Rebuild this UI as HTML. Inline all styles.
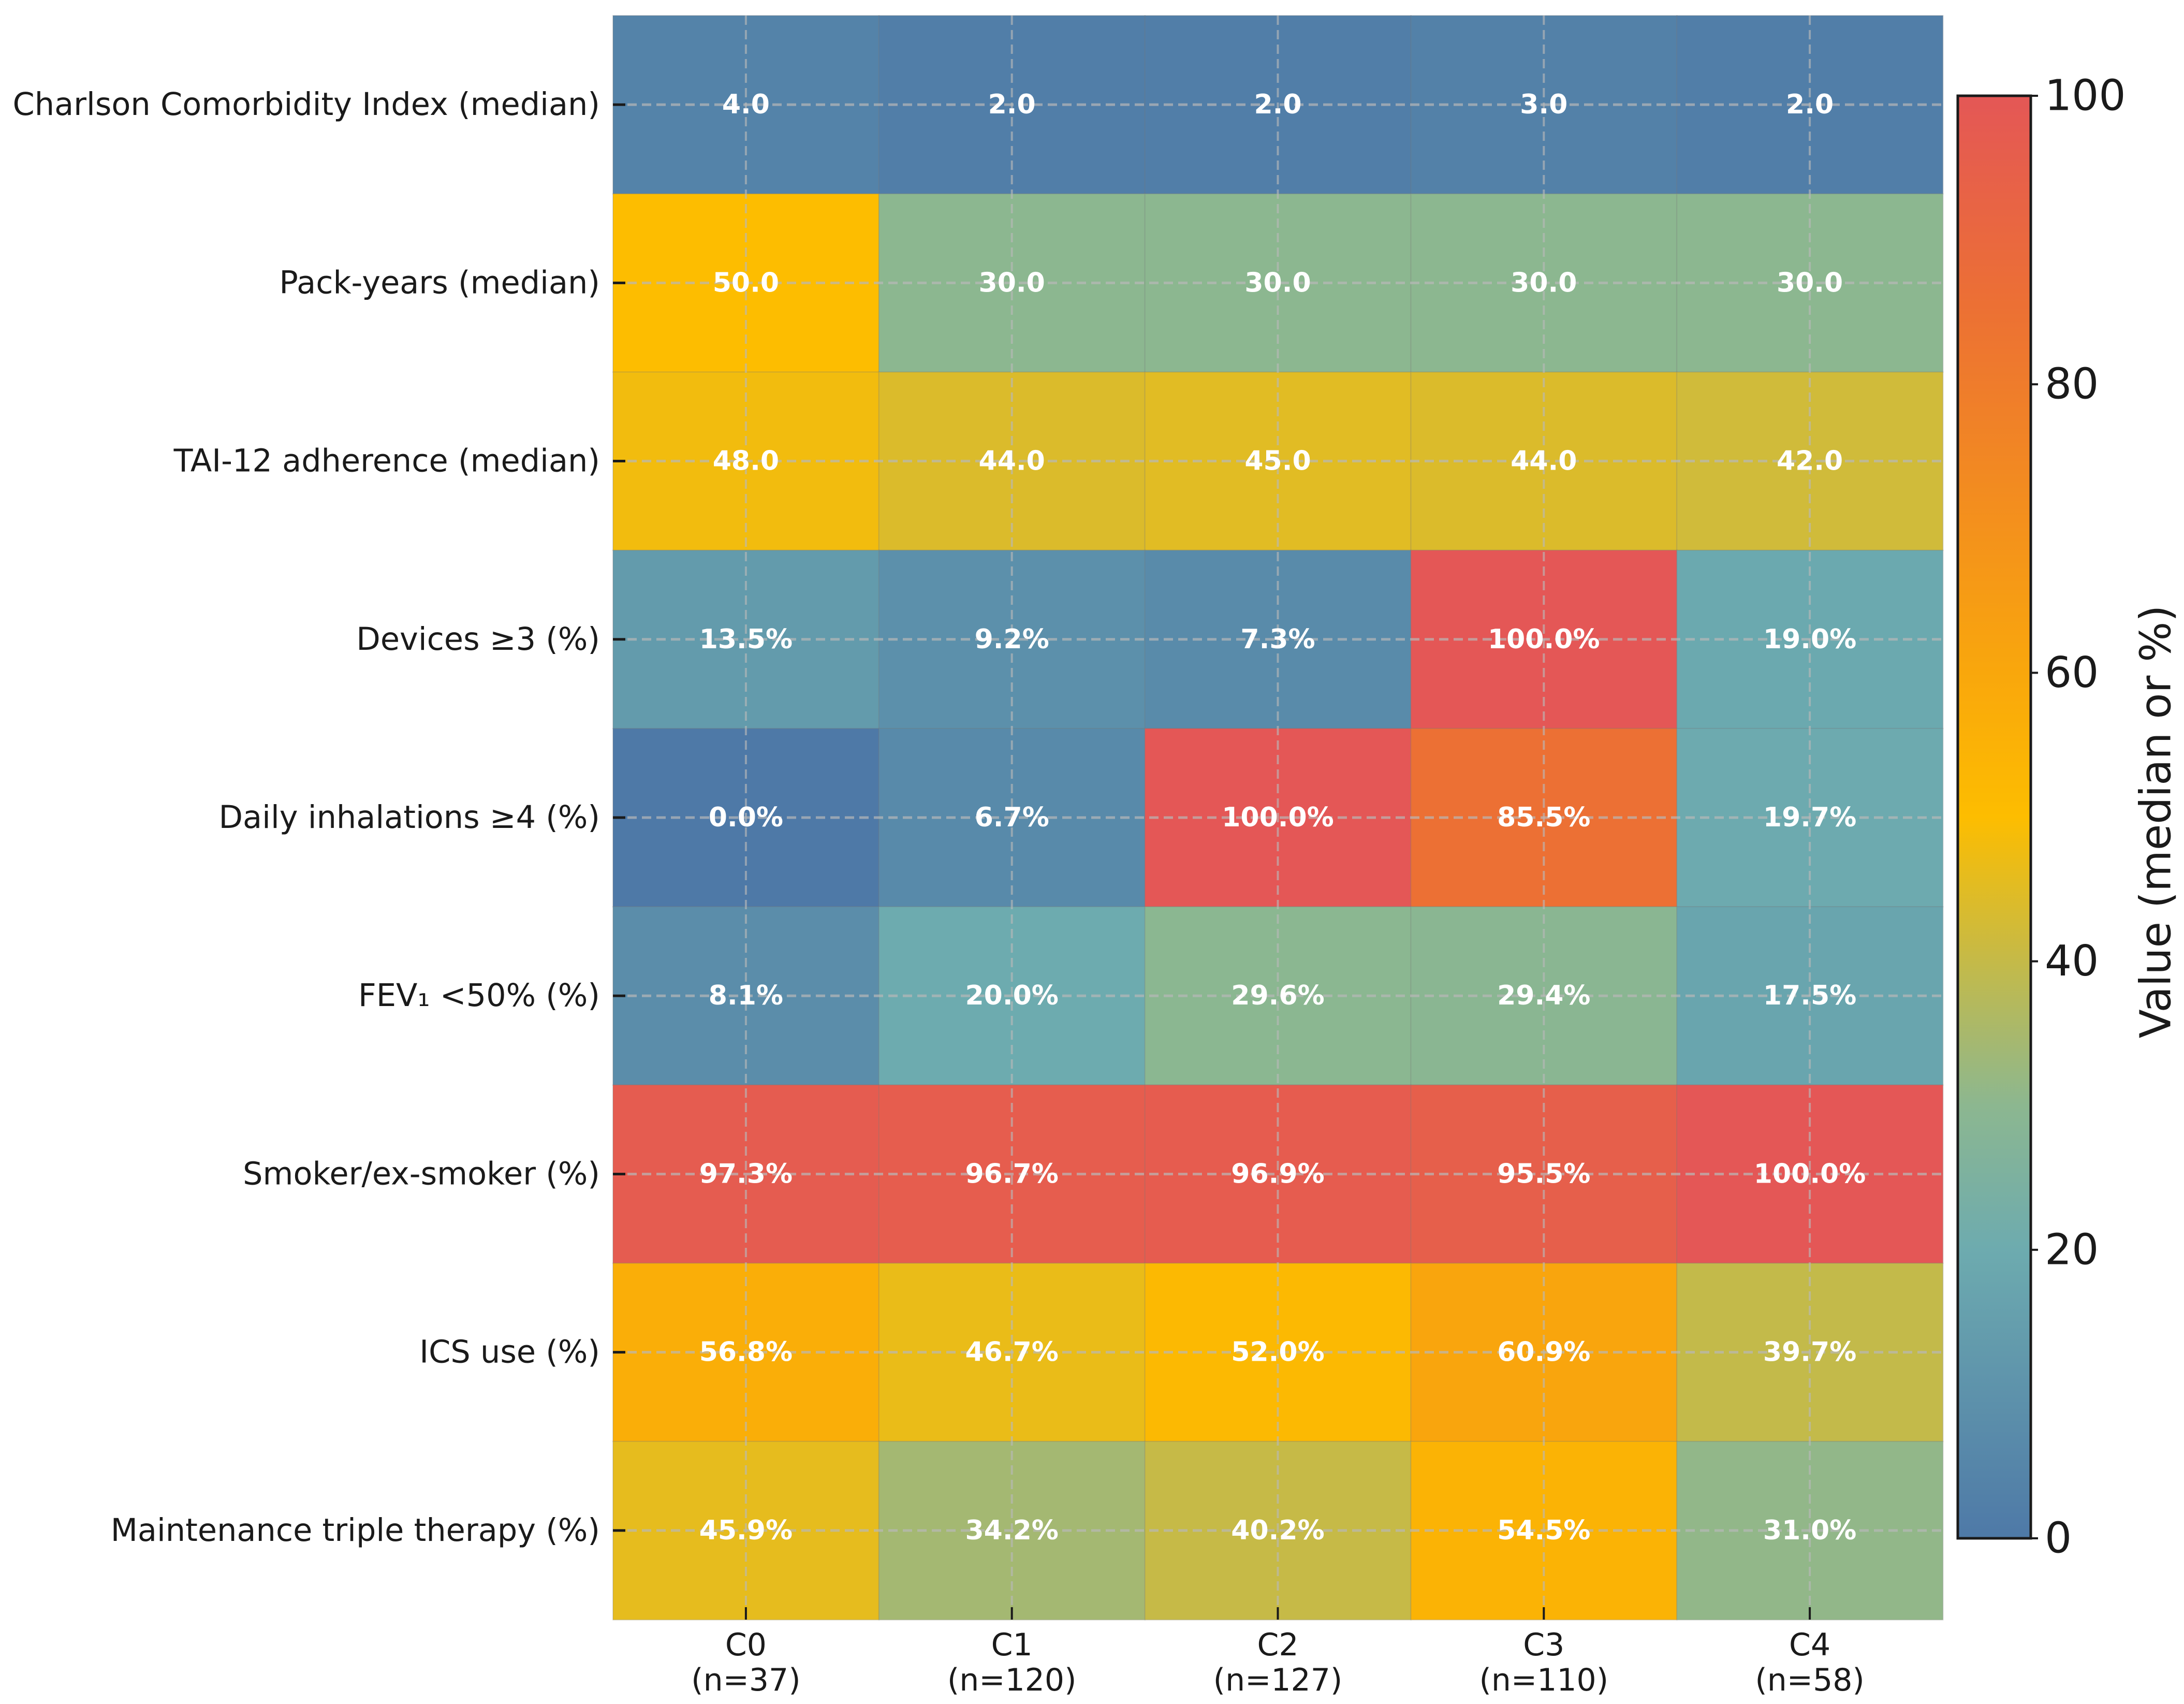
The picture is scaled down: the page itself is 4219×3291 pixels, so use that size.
<!DOCTYPE html>
<html><head><meta charset="utf-8"><style>
html,body{margin:0;padding:0;background:#fff;}
svg{display:block;font-family:"DejaVu Sans","Liberation Sans",sans-serif;}
</style></head><body>
<svg id="chart" width="4219" height="3291" viewBox="0 0 4219 3291" xmlns="http://www.w3.org/2000/svg">
<defs>
<linearGradient id="cbgrad" x1="0" y1="1" x2="0" y2="0">
<stop offset="0" stop-color="#4e79a7"/>
<stop offset="0.2" stop-color="#6dabaf"/>
<stop offset="0.3" stop-color="#8cb790"/>
<stop offset="0.5" stop-color="#fdbd00"/>
<stop offset="0.6" stop-color="#f9a70c"/>
<stop offset="0.855" stop-color="#ec7034"/>
<stop offset="1" stop-color="#e45756"/>
</linearGradient>
</defs>
<g id="cells"></g>
<g id="grid"></g>
<g id="labels"></g>
<g id="yaxis"></g>
<g id="xaxis"></g>
<g id="colorbar">
<rect x="3782" y="185" width="141" height="2786" fill="url(#cbgrad)" stroke="#1a1a1a" stroke-width="5"/>
</g>
<text x="4165" y="1587" font-size="82" fill="#1a1a1a" text-anchor="middle" dominant-baseline="central" transform="rotate(-90 4165 1587)">Value (median or %)</text>
</svg>
<script>
const rowLabels = ["Charlson Comorbidity Index (median)","Pack-years (median)","TAI-12 adherence (median)","Devices \u22653 (%)","Daily inhalations \u22654 (%)","FEV\u2081 <50% (%)","Smoker/ex-smoker (%)","ICS use (%)","Maintenance triple therapy (%)"];
const colLabels = ["C0","C1","C2","C3","C4"];
const colN = ["(n=37)","(n=120)","(n=127)","(n=110)","(n=58)"];
const rowIsPct = [false,false,false,true,true,true,true,true,true];
const rowCharlson = [4.0,2.0,2.0,3.0,2.0];
const rowPack = [50.0,30.0,30.0,30.0,30.0];
const rowTAI = [48.0,44.0,45.0,44.0,42.0];
const rowDevices = [13.5,9.2,7.3,100.0,19.0];
const rowInhal = [0.0,6.7,100.0,85.5,19.7];
const rowFEV = [8.1,20.0,29.6,29.4,17.5];
const rowSmoker = [97.3,96.7,96.9,95.5,100.0];
const rowICS = [56.8,46.7,52.0,60.9,39.7];
const rowTriple = [45.9,34.2,40.2,54.5,31.0];
const cbTicks = [0,20,40,60,80,100];

const values = [rowCharlson,rowPack,rowTAI,rowDevices,rowInhal,rowFEV,rowSmoker,rowICS,rowTriple];
const NS="http://www.w3.org/2000/svg";
const X0=1184, X1=3753, Y0=30, Y1=3128;
const CB_TOP=185, CB_BOT=2971;
const cw=(X1-X0)/colLabels.length, rh=(Y1-Y0)/rowLabels.length;
const xCell=c=>X0+c*cw, yCell=r=>Y0+r*rh;
const yCB=v=>CB_BOT-(v/100)*(CB_BOT-CB_TOP);
const stops=[[0,[0x4e,0x79,0xa7]],[20,[0x6d,0xab,0xaf]],[30,[0x8c,0xb7,0x90]],[50,[0xfd,0xbd,0x00]],[60,[0xf9,0xa7,0x0c]],[85.5,[0xec,0x70,0x34]],[100,[0xe4,0x57,0x56]]];
function cmap(v){v=Math.max(0,Math.min(100,v));for(let i=0;i<stops.length-1;i++){const[a,ca]=stops[i],[b,cb]=stops[i+1];if(v<=b){const t=(v-a)/(b-a);return "rgb("+ca.map((x,k)=>Math.round(x+(cb[k]-x)*t)).join(",")+")";}}return "rgb(228,87,86)";}
function mk(tag,attrs,parent){const e=document.createElementNS(NS,tag);for(const k in attrs)e.setAttribute(k,attrs[k]);parent.appendChild(e);return e;}
const gC=document.getElementById('cells'),gG=document.getElementById('grid'),gL=document.getElementById('labels'),gY=document.getElementById('yaxis'),gX=document.getElementById('xaxis'),gCB=document.getElementById('colorbar');
values.forEach((row,r)=>{row.forEach((v,c)=>{
 const rect=mk('rect',{x:xCell(c),y:yCell(r),width:cw+0.5,height:rh+0.5,fill:cmap(v),stroke:'rgba(120,120,120,0.25)','stroke-width':2},gC);
 
 
 const t=mk('text',{x:xCell(c)+cw/2,y:yCell(r)+rh/2,'font-size':52,'font-weight':'bold',fill:'#fff','text-anchor':'middle','dominant-baseline':'central'},gL);
 t.textContent=v.toFixed(1)+(rowIsPct[r]?'%':'');
 
 
});});
colLabels.forEach((c,i)=>{
 const cx=xCell(i)+cw/2;
 const l=mk('line',{x1:cx,y1:Y0,x2:cx,y2:Y1,stroke:'#b8b8b8','stroke-opacity':0.65,'stroke-width':4,'stroke-dasharray':'18 10'},gG);
 
 
 const tk=mk('line',{x1:cx,y1:Y1,x2:cx,y2:Y1-24,stroke:'#1a1a1a','stroke-width':4},gX);
 
 
 const t1=mk('text',{x:cx,y:3197,'font-size':60,fill:'#1a1a1a','text-anchor':'middle'},gX);
 t1.textContent=c;
 
 
 const t2=mk('text',{x:cx,y:3265,'font-size':60,fill:'#1a1a1a','text-anchor':'middle'},gX);
 t2.textContent=colN[i];
 
 
});
rowLabels.forEach((lab,r)=>{
 const cy=yCell(r)+rh/2;
 const l=mk('line',{x1:X0,y1:cy,x2:X1,y2:cy,stroke:'#b8b8b8','stroke-opacity':0.7,'stroke-width':5,'stroke-dasharray':'18 10'},gG);
 
 
 const tk=mk('line',{x1:X0,y1:cy,x2:X0+24,y2:cy,stroke:'#1a1a1a','stroke-width':5},gY);
 
 
 const t=mk('text',{x:1159,y:cy,'font-size':60.5,fill:'#1a1a1a','text-anchor':'end','dominant-baseline':'central'},gY);
 t.textContent=lab;
 
 
});
cbTicks.forEach(v=>{
 const y=yCB(v);
 const tk=mk('line',{x1:3923,y1:y,x2:3937,y2:y,stroke:'#1a1a1a','stroke-width':4},gCB);
 
 
 const t=mk('text',{x:3950,y:y,'font-size':82,fill:'#1a1a1a','dominant-baseline':'central'},gCB);
 t.textContent=String(v);
 
 
});
</script>
</body></html>
